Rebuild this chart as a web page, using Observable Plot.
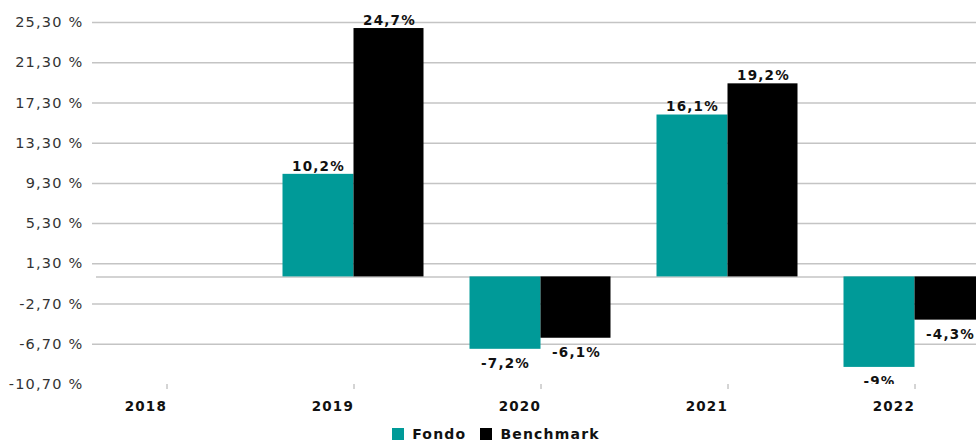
<!DOCTYPE html>
<html>
<head>
<meta charset="utf-8">
<script src="https://cdn.jsdelivr.net/npm/d3@7"></script>
<script src="https://cdn.jsdelivr.net/npm/@observablehq/plot@0.6"></script>
<style>
  html, body { margin: 0; padding: 0; background: #fff; overflow: hidden; width: 976px; height: 444px; }
  #chart svg { display: block; }
  .legend { display: flex; justify-content: center; align-items: center; padding-left: 16px; height: 20px;
            font-family: "DejaVu Sans", sans-serif; font-weight: bold; font-size: 14px; letter-spacing: 1.2px; color: #111; }
  .legend .item { display: flex; align-items: center; margin: 0 7px; }
  .legend .sw { width: 12px; height: 12px; margin-right: 8px; }
</style>
</head>
<body>
<div id="chart"></div>
<script>
const years = ["2018", "2019", "2020", "2021", "2022"];
const series = ["Fondo", "Benchmark"];
const colors = ["#009a98", "#000000"];
const fondo = [null, 10.2, -7.2, 16.1, -9];
const benchmark = [null, 24.7, -6.1, 19.2, -4.3];
const yTicks = [25.3, 21.3, 17.3, 13.3, 9.3, 5.3, 1.3, -2.7, -6.7, -10.7];

const rows = [];
years.forEach((y, i) => {
  if (fondo[i] != null) rows.push({year: y, series: "Fondo", value: fondo[i]});
  if (benchmark[i] != null) rows.push({year: y, series: "Benchmark", value: benchmark[i]});
});
const fmtVal = v => String(v).replace(".", ",") + "%";
const fmtTick = v => v.toFixed(2).replace(".", ",") + " %";

const labelFont = {fontFamily: "DejaVu Sans, sans-serif", fontWeight: "bold", fontSize: 13.5, fill: "#111"};

const isF = d => d.series === "Fondo";
const chart = Plot.plot({
  width: 976,
  height: 424,
  marginLeft: 92,
  marginRight: 0,
  marginTop: 22,
  marginBottom: 40,
  style: {background: "#fff", overflow: "hidden"},
  x: {type: "band", domain: years, range: [72.5, 1007.5], padding: 0, label: null},
  y: {domain: [-10.7, 25.3], label: null},
  marks: [
    Plot.ruleY(yTicks.filter(t => t > -10.7), {stroke: "#c4c4c4", strokeWidth: 1.5}),
    Plot.ruleY([0], {stroke: "#c4c4c4", strokeWidth: 1.5, insetLeft: 4}),
    Plot.axisY({ticks: yTicks, tickFormat: fmtTick, tickSize: 0, tickPadding: 9, label: null,
      fontFamily: "DejaVu Sans, sans-serif", fontSize: 14.5, fill: "#333"}),
    Plot.axisX({tickSize: 5, stroke: "#aaa", tickPadding: 12, label: null, textAnchor: "end",
      fontFamily: "DejaVu Sans, sans-serif", fontWeight: "bold", fontSize: 13.5, fill: "#111"}),
    Plot.barY(rows.filter(isF), {x: "year", y: "value", fill: colors[0], insetLeft: 22.5, insetRight: 93.5, clip: "frame"}),
    Plot.barY(rows.filter(d => !isF(d)), {x: "year", y: "value", fill: colors[1], insetLeft: 93.5, insetRight: 23.5, clip: "frame"}),
    Plot.text(rows.filter(d => d.value >= 0 && isF(d)), {x: "year", y: "value", text: d => fmtVal(d.value), ...labelFont, dy: -8, dx: -35.5}),
    Plot.text(rows.filter(d => d.value >= 0 && !isF(d)), {x: "year", y: "value", text: d => fmtVal(d.value), ...labelFont, dy: -8, dx: 35.5}),
    Plot.text(rows.filter(d => d.value < 0 && isF(d)), {x: "year", y: "value", text: d => fmtVal(d.value), ...labelFont, clip: "frame", dy: 14.5, dx: -35.5}),
    Plot.text(rows.filter(d => d.value < 0 && !isF(d)), {x: "year", y: "value", text: d => fmtVal(d.value), ...labelFont, clip: "frame", dy: 14.5, dx: 35.5})
  ]
});
chart.querySelectorAll("text").forEach(t => t.style.letterSpacing = "1.2px");
document.getElementById("chart").appendChild(chart);

const legend = d3.select("body").append("div").attr("class", "legend");
series.forEach((s, i) => {
  const it = legend.append("div").attr("class", "item");
  it.append("div").attr("class", "sw").style("background", colors[i]);
  it.append("span").text(s);
});
</script>
</body>
</html>
